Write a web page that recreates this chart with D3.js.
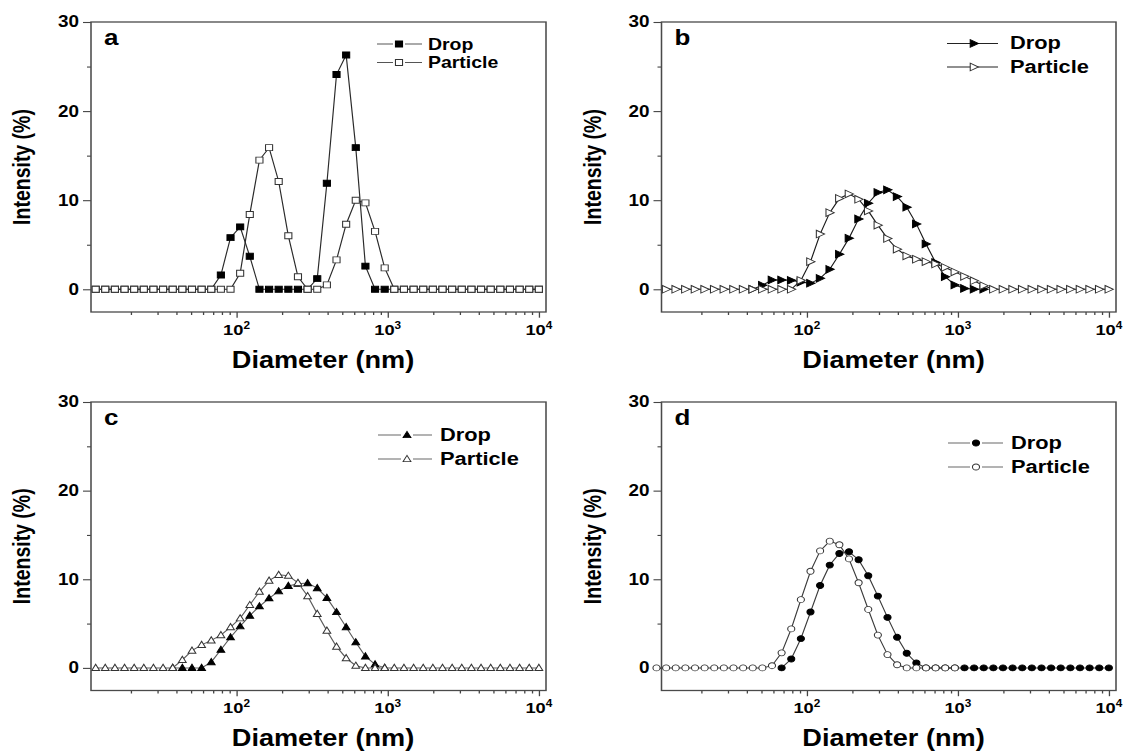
<!DOCTYPE html>
<html>
<head>
<meta charset="utf-8">
<script src="https://cdn.jsdelivr.net/npm/d3@7"></script>
<style>
  html, body { margin: 0; padding: 0; background: #fff; }
  svg { display: block; }
  text { font-family: "Liberation Sans", Arial, sans-serif; fill: #000; }
</style>
</head>
<body>
<div id="chart"></div>
<script>
// size classes of the instrument (nm)
const diameters = [10.10, 11.70, 13.54, 15.69, 18.17, 21.04, 24.36, 28.21, 32.67, 37.84,
  43.82, 50.75, 58.77, 68.06, 78.82, 91.28, 105.7, 122.4, 141.8, 164.2,
  190.1, 220.2, 255.0, 295.3, 342.0, 396.1, 458.7, 531.2, 615.1, 712.4,
  825.0, 955.4, 1106, 1281, 1484, 1718, 1990, 2305, 2669, 3091,
  3580, 4145, 4801, 5560, 6439, 7456, 8635, 10000];

// intensity (%) per size class, null = no point
const aDrop = [null, 0, 0, 0, 0, 0, 0, 0, 0, 0,
  0, 0, 0, 0, 1.6, 5.8, 7.0, 3.7, 0, 0,
  0, 0, 0, 0, 1.2, 11.9, 24.1, 26.3, 15.9, 2.6,
  0, 0, 0, 0, 0, 0, 0, 0, 0, 0,
  0, 0, 0, 0, 0, 0, 0, 0];
const aParticle = [null, 0, 0, 0, 0, 0, 0, 0, 0, 0,
  0, 0, 0, 0, 0, 0, 1.8, 8.4, 14.5, 15.9,
  12.1, 6.0, 1.4, 0, 0, 0.5, 3.3, 7.3, 10.0, 9.7,
  6.5, 2.4, 0, 0, 0, 0, 0, 0, 0, 0,
  0, 0, 0, 0, 0, 0, 0, 0];

const bDrop = [null, null, null, null, null, null, null, null, null, null,
  0, 0.45, 1.04, 1.04, 1.0, 0.8, 0.67, 1.23, 2.24, 3.93,
  5.73, 7.9, 9.66, 10.86, 11.16, 10.4, 9.2, 7.34, 5.09, 3.0,
  1.42, 0.48, 0.1, 0, 0, null, null, null, null, null,
  null, null, null, null, null, null, null, null];
const bParticle = [null, 0, 0, 0, 0, 0, 0, 0, 0, 0,
  0, 0, 0, 0, 0, 1.0, 3.1, 6.2, 8.6, 10.2,
  10.7, 10.1, 8.8, 7.2, 5.7, 4.5, 3.74, 3.37, 3.1, 2.84,
  2.45, 1.95, 1.45, 0.95, 0.4, 0, 0, 0, 0, 0,
  0, 0, 0, 0, 0, 0, 0, 0];

const cDrop = [null, null, null, null, null, null, null, null, null, 0,
  0, 0, 0, 0.65, 2.05, 3.45, 4.7, 5.9, 6.95, 7.85,
  8.65, 9.25, 9.5, 9.57, 9.0, 7.9, 6.3, 4.6, 2.9, 1.3,
  0.4, 0, null, null, null, null, null, null, null, null,
  null, null, null, null, null, null, null, null];
const cParticle = [null, 0, 0, 0, 0, 0, 0, 0, 0, 0,
  0.9, 1.95, 2.6, 3.1, 3.7, 4.6, 5.6, 7.1, 8.6, 9.85,
  10.5, 10.4, 9.6, 8.1, 6.1, 4.2, 2.4, 1.1, 0.25, 0,
  0, 0, 0, 0, 0, 0, 0, 0, 0, 0,
  0, 0, 0, 0, 0, 0, 0, 0];

const dDrop = [null, null, null, null, null, null, null, null, null, null,
  null, null, null, 0, 1.0, 3.3, 6.3, 9.3, 11.6, 12.9,
  13.1, 12.2, 10.4, 8.1, 5.7, 3.45, 1.65, 0.55, 0, 0,
  0, 0, 0, 0, 0, 0, 0, 0, 0, 0,
  0, 0, 0, 0, 0, 0, 0, 0];
const dParticle = [0, 0, 0, 0, 0, 0, 0, 0, 0, 0,
  0, 0, 0.25, 1.7, 4.4, 7.7, 10.9, 13.2, 14.3, 13.9,
  12.3, 9.6, 6.6, 3.7, 1.5, 0.35, 0, 0, 0, 0,
  0, 0, null, null, null, null, null, null, null, null,
  null, null, null, null, null, null, null, null];

const seriesNames = ['Drop', 'Particle'];
const yTicks = [0, 10, 20, 30];
const yMinorTicks = [5, 15, 25];
const xTicks = [100, 1000, 10000];
const xTickExponents = ['2', '3', '4'];
const xMinorTicks = [20, 30, 40, 50, 60, 70, 80, 90, 200, 300, 400, 500, 600, 700, 800, 900,
  2000, 3000, 4000, 5000, 6000, 7000, 8000, 9000];
const xTitle = 'Diameter (nm)';
const yTitle = 'Intensity (%)';

const xDomain = [10.9, 11150];
const yDomain = [-2.55, 30];

// the picture is stretched sideways, so draw in a narrower box and let the viewBox widen it
const S = 1.18;
const W = 1126, H = 752;

const markers = {
  square: 'M-3,-3H3V3H-3Z',
  triRight: 'M-3.2,-3.8L3.8,0L-3.2,3.8Z',
  triUp: 'M0,-3.6L3.3,2.6L-3.3,2.6Z',
  circle: 'M-3,0A3,3 0 1,0 3,0A3,3 0 1,0 -3,0Z'
};

const panels = [
  { letter: 'a', left: 91, right: 546, top: 22, bottom: 312, drop: aDrop, particle: aParticle,
    marker: 'square', lineColor: '#2a2a2a',
    legend: { x1: 377, x2: 422, mx: 399, tx: 428, base: 50, step: 18.5, size: 16.5, gap: true, color: '#555' } },
  { letter: 'b', left: 661.5, right: 1116, top: 22, bottom: 312, drop: bDrop, particle: bParticle,
    marker: 'triRight', lineColor: '#1a1a1a',
    legend: { x1: 947, x2: 998, mx: 974, tx: 1010, base: 49.5, step: 23.5, size: 18.5, gap: false, color: '#222' } },
  { letter: 'c', left: 91, right: 546, top: 402, bottom: 690.5, drop: cDrop, particle: cParticle,
    marker: 'triUp', lineColor: '#5a5a5a',
    legend: { x1: 378, x2: 432, mx: 407, tx: 440, base: 441, step: 24, size: 18.5, gap: true, color: '#666' } },
  { letter: 'd', left: 661.5, right: 1116, top: 402, bottom: 690.5, drop: dDrop, particle: dParticle,
    marker: 'circle', lineColor: '#3a3a3a',
    legend: { x1: 948, x2: 1003, mx: 976, tx: 1011, base: 449, step: 24, size: 18.5, gap: true, color: '#666' } }
];

const svg = d3.select('#chart').append('svg')
  .attr('width', W)
  .attr('height', H)
  .attr('viewBox', `0 0 ${W / S} ${H}`)
  .attr('preserveAspectRatio', 'none');

panels.forEach(drawPanel);

function drawPanel(p) {
  const x = d3.scaleLog().domain(xDomain).range([p.left / S, p.right / S]);
  const y = d3.scaleLinear().domain(yDomain).range([p.bottom, p.top]);
  const g = svg.append('g');

  // bottom axis ticks
  const xMajor = d3.axisBottom(x).tickValues(xTicks).tickSize(5.7).tickFormat('');
  const xMinor = d3.axisBottom(x).tickValues(xMinorTicks).tickSize(3).tickFormat('');
  [xMajor, xMinor].forEach(ax => {
    const a = g.append('g').attr('transform', `translate(0,${p.bottom})`).call(ax);
    a.select('.domain').remove();
    a.selectAll('line').attr('stroke', '#444').attr('stroke-width', 1.1);
  });

  // left axis ticks
  const yMajor = d3.axisLeft(y).tickValues(yTicks).tickSize(8 / S).tickFormat('');
  const yMinor = d3.axisLeft(y).tickValues(yMinorTicks).tickSize(4 / S).tickFormat('');
  [yMajor, yMinor].forEach(ax => {
    const a = g.append('g').attr('transform', `translate(${p.left / S},0)`).call(ax);
    a.select('.domain').remove();
    a.selectAll('line').attr('stroke', '#444').attr('stroke-width', 1.1);
  });

  g.selectAll('.ylab').data(yTicks).join('text')
    .attr('x', (p.left - 12) / S)
    .attr('y', d => y(d) + 5.5)
    .attr('text-anchor', 'end')
    .style('font-size', '16px')
    .style('font-weight', 'bold')
    .text(d => d);

  xTicks.forEach((v, i) => {
    const t = g.append('text')
      .attr('x', x(v))
      .attr('y', p.bottom + 23)
      .attr('text-anchor', 'middle')
      .style('font-size', '15.5px')
      .style('font-weight', 'bold');
    t.append('tspan').text('10');
    t.append('tspan').attr('dy', -6).style('font-size', '10px').text(xTickExponents[i]);
  });

  g.append('text')
    .attr('x', (p.left + 232) / S)
    .attr('y', p.bottom + 56)
    .attr('text-anchor', 'middle')
    .style('font-size', '23px')
    .style('font-weight', 'bold')
    .text(xTitle);

  g.append('text')
    .attr('transform', `translate(${(p.left - 61) / S},${(p.top + p.bottom) / 2}) rotate(-90)`)
    .attr('text-anchor', 'middle')
    .style('font-size', '19.5px')
    .style('font-weight', 'bold')
    .text(yTitle);

  // series: drop first, particle on top
  const series = [
    { values: p.drop, fill: '#000', stroke: '#000' },
    { values: p.particle, fill: '#fff', stroke: '#333' }
  ];
  const line = d3.line().x(o => x(o.d)).y(o => y(o.v));
  series.forEach(s => {
    const pts = diameters.map((d, i) => ({ d, v: s.values[i] })).filter(o => o.v != null);
    g.append('path').datum(pts)
      .attr('d', line)
      .attr('fill', 'none')
      .attr('stroke', p.lineColor)
      .attr('stroke-width', 1);
    g.append('g').selectAll('path').data(pts).join('path')
      .attr('d', markers[p.marker])
      .attr('transform', o => `translate(${x(o.d)},${y(o.v)})`)
      .attr('fill', s.fill)
      .attr('stroke', s.stroke)
      .attr('stroke-width', 0.9);
  });

  // frame
  g.append('rect')
    .attr('x', p.left / S)
    .attr('y', p.top)
    .attr('width', (p.right - p.left) / S)
    .attr('height', p.bottom - p.top)
    .attr('fill', 'none')
    .attr('stroke', '#4a4a4a')
    .attr('stroke-width', 1.3);

  g.append('text')
    .attr('x', (p.left + 13) / S)
    .attr('y', p.top + 23)
    .style('font-size', '22px')
    .style('font-weight', 'bold')
    .text(p.letter);

  // legend
  const L = p.legend;
  seriesNames.forEach((name, i) => {
    const base = L.base + i * L.step;
    const ly = base - 6;
    if (L.gap) {
      g.append('line').attr('x1', L.x1 / S).attr('x2', (L.mx - 6) / S).attr('y1', ly).attr('y2', ly)
        .attr('stroke', L.color).attr('stroke-width', 1);
      g.append('line').attr('x1', (L.mx + 6) / S).attr('x2', L.x2 / S).attr('y1', ly).attr('y2', ly)
        .attr('stroke', L.color).attr('stroke-width', 1);
    } else {
      g.append('line').attr('x1', L.x1 / S).attr('x2', L.x2 / S).attr('y1', ly).attr('y2', ly)
        .attr('stroke', L.color).attr('stroke-width', 1);
    }
    g.append('path')
      .attr('d', markers[p.marker])
      .attr('transform', `translate(${L.mx / S},${ly})`)
      .attr('fill', series[i].fill)
      .attr('stroke', series[i].stroke)
      .attr('stroke-width', 0.9);
    g.append('text')
      .attr('x', L.tx / S)
      .attr('y', base)
      .style('font-size', L.size + 'px')
      .style('font-weight', 'bold')
      .text(name);
  });
}
</script>
</body>
</html>
